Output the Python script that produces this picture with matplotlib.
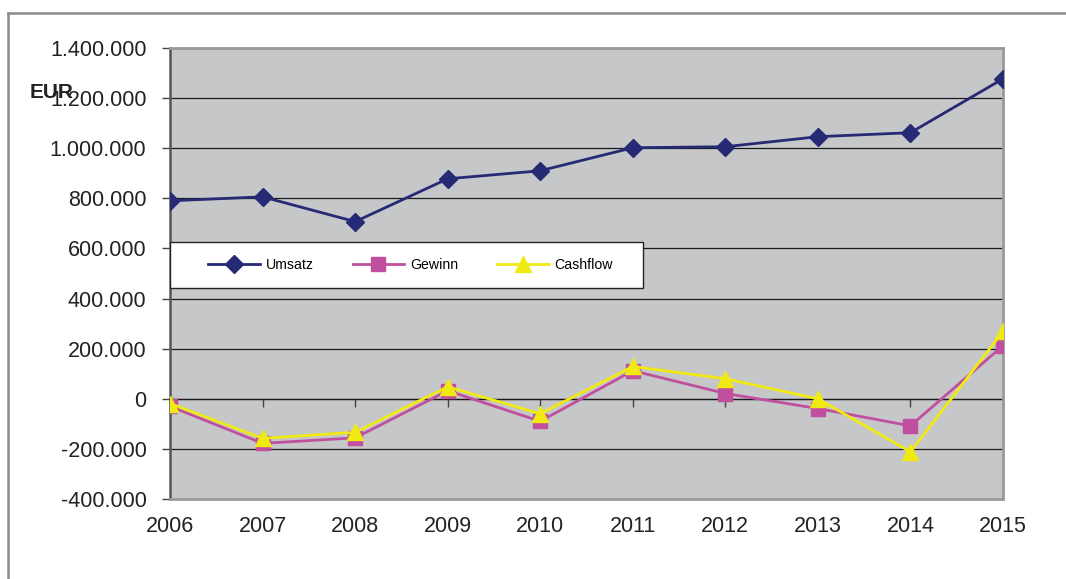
import matplotlib
matplotlib.use("Agg")
import matplotlib.pyplot as plt
from matplotlib.lines import Line2D
from matplotlib.patches import Rectangle
from matplotlib.ticker import FuncFormatter, MultipleLocator

plt.rcParams["font.family"] = ["Liberation Sans", "DejaVu Sans"]

years = [2006, 2007, 2008, 2009, 2010, 2011, 2012, 2013, 2014, 2015]
umsatz = [790000, 806000, 707000, 878000, 910000, 1002000, 1006000, 1046000, 1062000, 1277000]
gewinn = [-30000, -178000, -156000, 32000, -90000, 112000, 21000, -39000, -108000, 212000]
cashflow = [-19000, -158000, -134000, 48000, -60000, 129000, 80000, 0, -212000, 269000]

fig = plt.figure(figsize=(10.66, 5.79), dpi=100)
ax = fig.add_axes([0.1595, 0.1382, 0.7814, 0.7789])
ax.set_facecolor("#c6c7c9")

# Outer chart frame (only top and left visible in the crop)
fig.add_artist(Line2D([8 / 1066, 1.0], [1 - 13 / 579] * 2, color="#8a8a8a", lw=1.8))
fig.add_artist(Line2D([8 / 1066] * 2, [0.0, 1 - 13 / 579], color="#8a8a8a", lw=1.8))

ax.plot(years, umsatz, color="#262a75", lw=2, marker="D", ms=9, label="Umsatz", zorder=5)
ax.plot(years, gewinn, color="#c0509f", lw=2, marker="s", ms=10, label="Gewinn", zorder=5)
ax.plot(years, cashflow, color="#f0ea12", lw=2, marker="^", ms=11, label="Cashflow", zorder=6)

ax.set_xlim(2006, 2015)
ax.set_ylim(-400000, 1400000)
ax.yaxis.set_major_locator(MultipleLocator(200000))
ax.yaxis.set_major_formatter(FuncFormatter(lambda v, p: f"{v:,.0f}".replace(",", ".")))
ax.yaxis.grid(True, color="#1a1a1a", lw=0.9)
ax.set_axisbelow(True)

ax.set_xticks(years)
ax.set_xticklabels([str(y) for y in years])
ax.tick_params(axis="x", length=0, pad=12, labelsize=15.5, colors="#222222")
ax.tick_params(axis="y", length=6, width=1, direction="out", pad=11,
               labelsize=15.5, color="#444444", labelcolor="#222222")

for side in ["top", "right", "bottom"]:
    ax.spines[side].set_color("#9a9a9a")
    ax.spines[side].set_linewidth(2)
ax.spines["left"].set_color("#555555")
ax.spines["left"].set_linewidth(1.8)

# Category axis crossing at zero with small tick marks
zero_frac = 400000 / 1800000
sec = ax.secondary_xaxis(zero_frac)
sec.set_xticks(years)
sec.tick_params(axis="x", length=6, width=1, direction="out", color="#444444",
                labelbottom=False, labeltop=False)
sec.spines["bottom"].set_color("#555555")
sec.spines["bottom"].set_linewidth(1)

# Axis unit label (overlaps the 1.200.000 tick label in the original too)
fig.text(30 / 1066, 1 - 93 / 579, "EUR", fontsize=15, fontweight="bold",
         color="#222222", va="center", ha="left")

# Legend box
box = Rectangle((0, 0.468), 0.568, 0.102, transform=ax.transAxes, facecolor="white",
                edgecolor="#222222", lw=1, zorder=9)
ax.add_patch(box)
leg = ax.legend(loc="center", bbox_to_anchor=(0.289, 0.519), ncol=3, frameon=False,
                fontsize=10.2, handlelength=3.66, handletextpad=0.42,
                columnspacing=2.7, borderpad=0, borderaxespad=0)
leg.set_zorder(10)

fig.savefig("out.png", dpi=100)
